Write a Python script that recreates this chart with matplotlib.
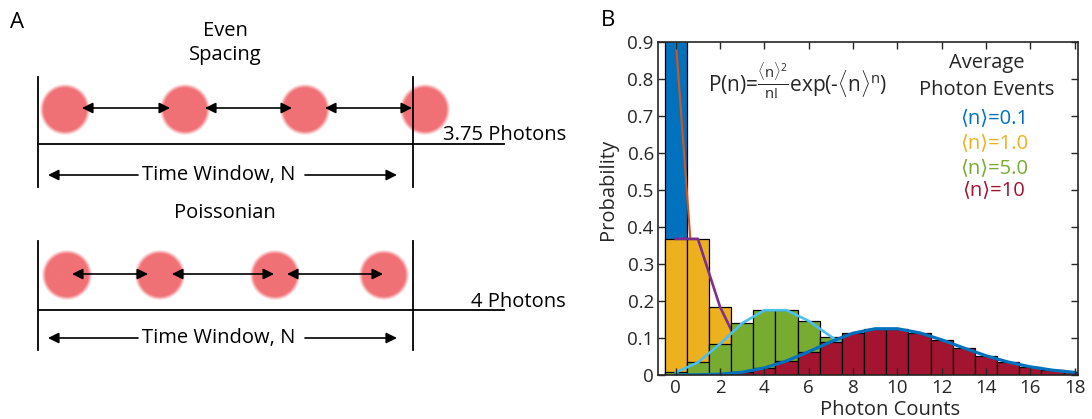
import numpy as np
import matplotlib.pyplot as plt
from matplotlib.colors import to_rgb

plt.rcParams['font.family'] = ['Open Sans', 'DejaVu Sans']
plt.rcParams['mathtext.fontset'] = 'custom'
plt.rcParams['mathtext.rm'] = 'Open Sans'
plt.rcParams['mathtext.it'] = 'Open Sans'

W, H = 1092, 419

# --- Panel B data: probabilities ---
counts = list(range(19))
p_01 = [0.905, 0.090, 0.005, 0.0002, 0, 0, 0, 0, 0, 0, 0, 0, 0, 0, 0, 0, 0, 0, 0]
p_1 = [0.368, 0.368, 0.184, 0.061, 0.015, 0.003, 0.0005, 0.0001, 0, 0, 0, 0, 0, 0, 0, 0, 0, 0, 0]
p_5 = [0.007, 0.034, 0.084, 0.140, 0.175, 0.175, 0.146, 0.104, 0.065, 0.036,
       0.018, 0.008, 0.003, 0.0013, 0.0005, 0.0002, 0.0001, 0, 0]
p_10 = [0.0000, 0.0005, 0.0023, 0.0076, 0.019, 0.038, 0.063, 0.090, 0.113, 0.125,
        0.125, 0.114, 0.095, 0.073, 0.052, 0.035, 0.022, 0.013, 0.007]
mean_labels = ['\u27e8n\u27e9=0.1', '\u27e8n\u27e9=1.0', '\u27e8n\u27e9=5.0', '\u27e8n\u27e9=10']

bar_colors = ['#0072BD', '#EDB120', '#77AC30', '#A2142F']
line_colors = ['#D95319', '#7E2F8E', '#4DBEEE', '#0072BD']
line_widths = [1.5, 1.9, 1.9, 2.3]

# --- Panel A layout (schematic, pixel units) ---
even_photons = [65, 185, 305, 425]
even_arrows = [(82, 170), (205, 292), (325, 412)]
poisson_photons = [67, 160, 275, 384]
poisson_arrows = [(72, 148), (172, 274), (287, 383)]

fig = plt.figure(figsize=(W / 100, H / 100), dpi=100)


def px(x, y):
    return x / W, 1 - y / H


# ================= Panel A =================
ax_a = fig.add_axes([0, 0, 580 / W, 1])
ax_a.axis('off')

# soft-edged photon disc
grid = np.linspace(-27, 27, 109)
gx, gy = np.meshgrid(grid, grid)
dist = np.hypot(gx, gy)
disc = np.zeros(dist.shape + (4,))
disc[..., :3] = to_rgb('#F07176')
disc[..., 3] = np.clip((23.5 - dist) / 4 + 0.5, 0, 1)

arrow_kw = dict(color='k', lw=1.2, mutation_scale=16, shrinkA=0, shrinkB=0)


def draw_row(photons, arrows, y_ph, y_arr, y_base, y_top, y_bot, y_tw, label, y_label):
    for cx in photons:
        ax_a.imshow(disc, extent=(cx - 27, cx + 27, y_ph + 27, y_ph - 27),
                    aspect='auto', interpolation='bilinear', zorder=1)
    for x0, x1 in arrows:
        ax_a.annotate('', xy=(x1, y_arr), xytext=(x0, y_arr),
                      arrowprops=dict(arrowstyle='<|-|>', **arrow_kw), zorder=3)
    ax_a.plot([38, 38], [y_top, y_bot], color='k', lw=1.3, zorder=2)
    ax_a.plot([413, 413], [y_top, y_bot], color='k', lw=1.3, zorder=2)
    ax_a.plot([38, 504], [y_base, y_base], color='k', lw=1.3, zorder=2)
    ax_a.text(219, y_tw, 'Time Window, N', ha='center', va='center', fontsize=14.5)
    ax_a.annotate('', xy=(48, y_tw), xytext=(138, y_tw),
                  arrowprops=dict(arrowstyle='-|>', **arrow_kw))
    ax_a.annotate('', xy=(397, y_tw), xytext=(305, y_tw),
                  arrowprops=dict(arrowstyle='-|>', **arrow_kw))
    ax_a.text(566, y_label, label, ha='right', va='baseline', fontsize=14.5)


draw_row(even_photons, even_arrows, 110, 108, 144, 77, 187, 175, '3.75 Photons', 140)
draw_row(poisson_photons, poisson_arrows, 275, 274, 310, 241, 350, 338, '4 Photons', 307)
ax_a.set_xlim(0, 580)
ax_a.set_ylim(H, 0)

ax_a.text(225, 43, 'Even\nSpacing', ha='center', va='center', fontsize=14.5,
          linespacing=1.3)
ax_a.text(225, 213, 'Poissonian', ha='center', va='center', fontsize=14.5)
fig.text(*px(17, 22), 'A', ha='center', va='center', fontsize=16)

# ================= Panel B =================
ax_b = fig.add_axes([658 / W, 1 - 375 / H, 420 / W, 333 / H])
series = [p_01, p_1, p_5, p_10]
# each curve sits on its own bars but under the next set of bars
for i, p in enumerate(series):
    ax_b.bar(counts, p, width=1, color=bar_colors[i], edgecolor='k', lw=0.9,
             zorder=2 * i + 1)
    ax_b.plot(counts, p, color=line_colors[i], lw=line_widths[i], zorder=2 * i + 2)

ax_b.set_xlim(-0.8, 18.15)
ax_b.set_ylim(0, 0.9)
ax_b.set_xticks(range(0, 19, 2))
ax_b.set_yticks(np.arange(0, 0.91, 0.1))
ax_b.set_yticklabels(['0'] + ['%.1f' % v for v in np.arange(0.1, 0.91, 0.1)])
ax_b.tick_params(direction='in', top=True, right=True, length=5, width=1,
                 colors='#262626', labelsize=13.5, pad=3)
ax_b.xaxis.set_zorder(20)
ax_b.yaxis.set_zorder(20)
for s in ax_b.spines.values():
    s.set_color('#262626')
    s.set_linewidth(1.2)
    s.set_zorder(21)

ax_b.set_xlabel('Photon Counts', fontsize=14.5, color='#262626')
ax_b.xaxis.set_label_coords(0.552, -0.075)
ax_b.set_ylabel('Probability', fontsize=14.5, color='#262626')
ax_b.yaxis.set_label_coords(-0.095, 0.556)

ax_b.text(0.119, 0.85,
          'P(n)=$\\frac{\\langle\\mathrm{n}\\rangle^{2}}{\\mathrm{n!}}$exp(-$\\langle\\mathrm{n}\\rangle^{\\mathrm{n}}$)',
          transform=ax_b.transAxes, ha='left', va='baseline', fontsize=15,
          color='#262626', zorder=30)
ax_b.text(0.783, 0.937, 'Average', transform=ax_b.transAxes, ha='center',
          va='center', fontsize=14.5, color='#262626', zorder=30)
ax_b.text(0.783, 0.856, 'Photon Events', transform=ax_b.transAxes, ha='center',
          va='center', fontsize=14.5, color='#262626', zorder=30)
legend_y = [0.772, 0.697, 0.622, 0.556]
for lab, c, y in zip(mean_labels, bar_colors, legend_y):
    ax_b.text(0.80, y, lab, transform=ax_b.transAxes, ha='center', va='center',
              fontsize=14.5, color=c, zorder=30)

fig.text(*px(608, 20), 'B', ha='center', va='center', fontsize=16)

fig.savefig('out.png', dpi=100)
